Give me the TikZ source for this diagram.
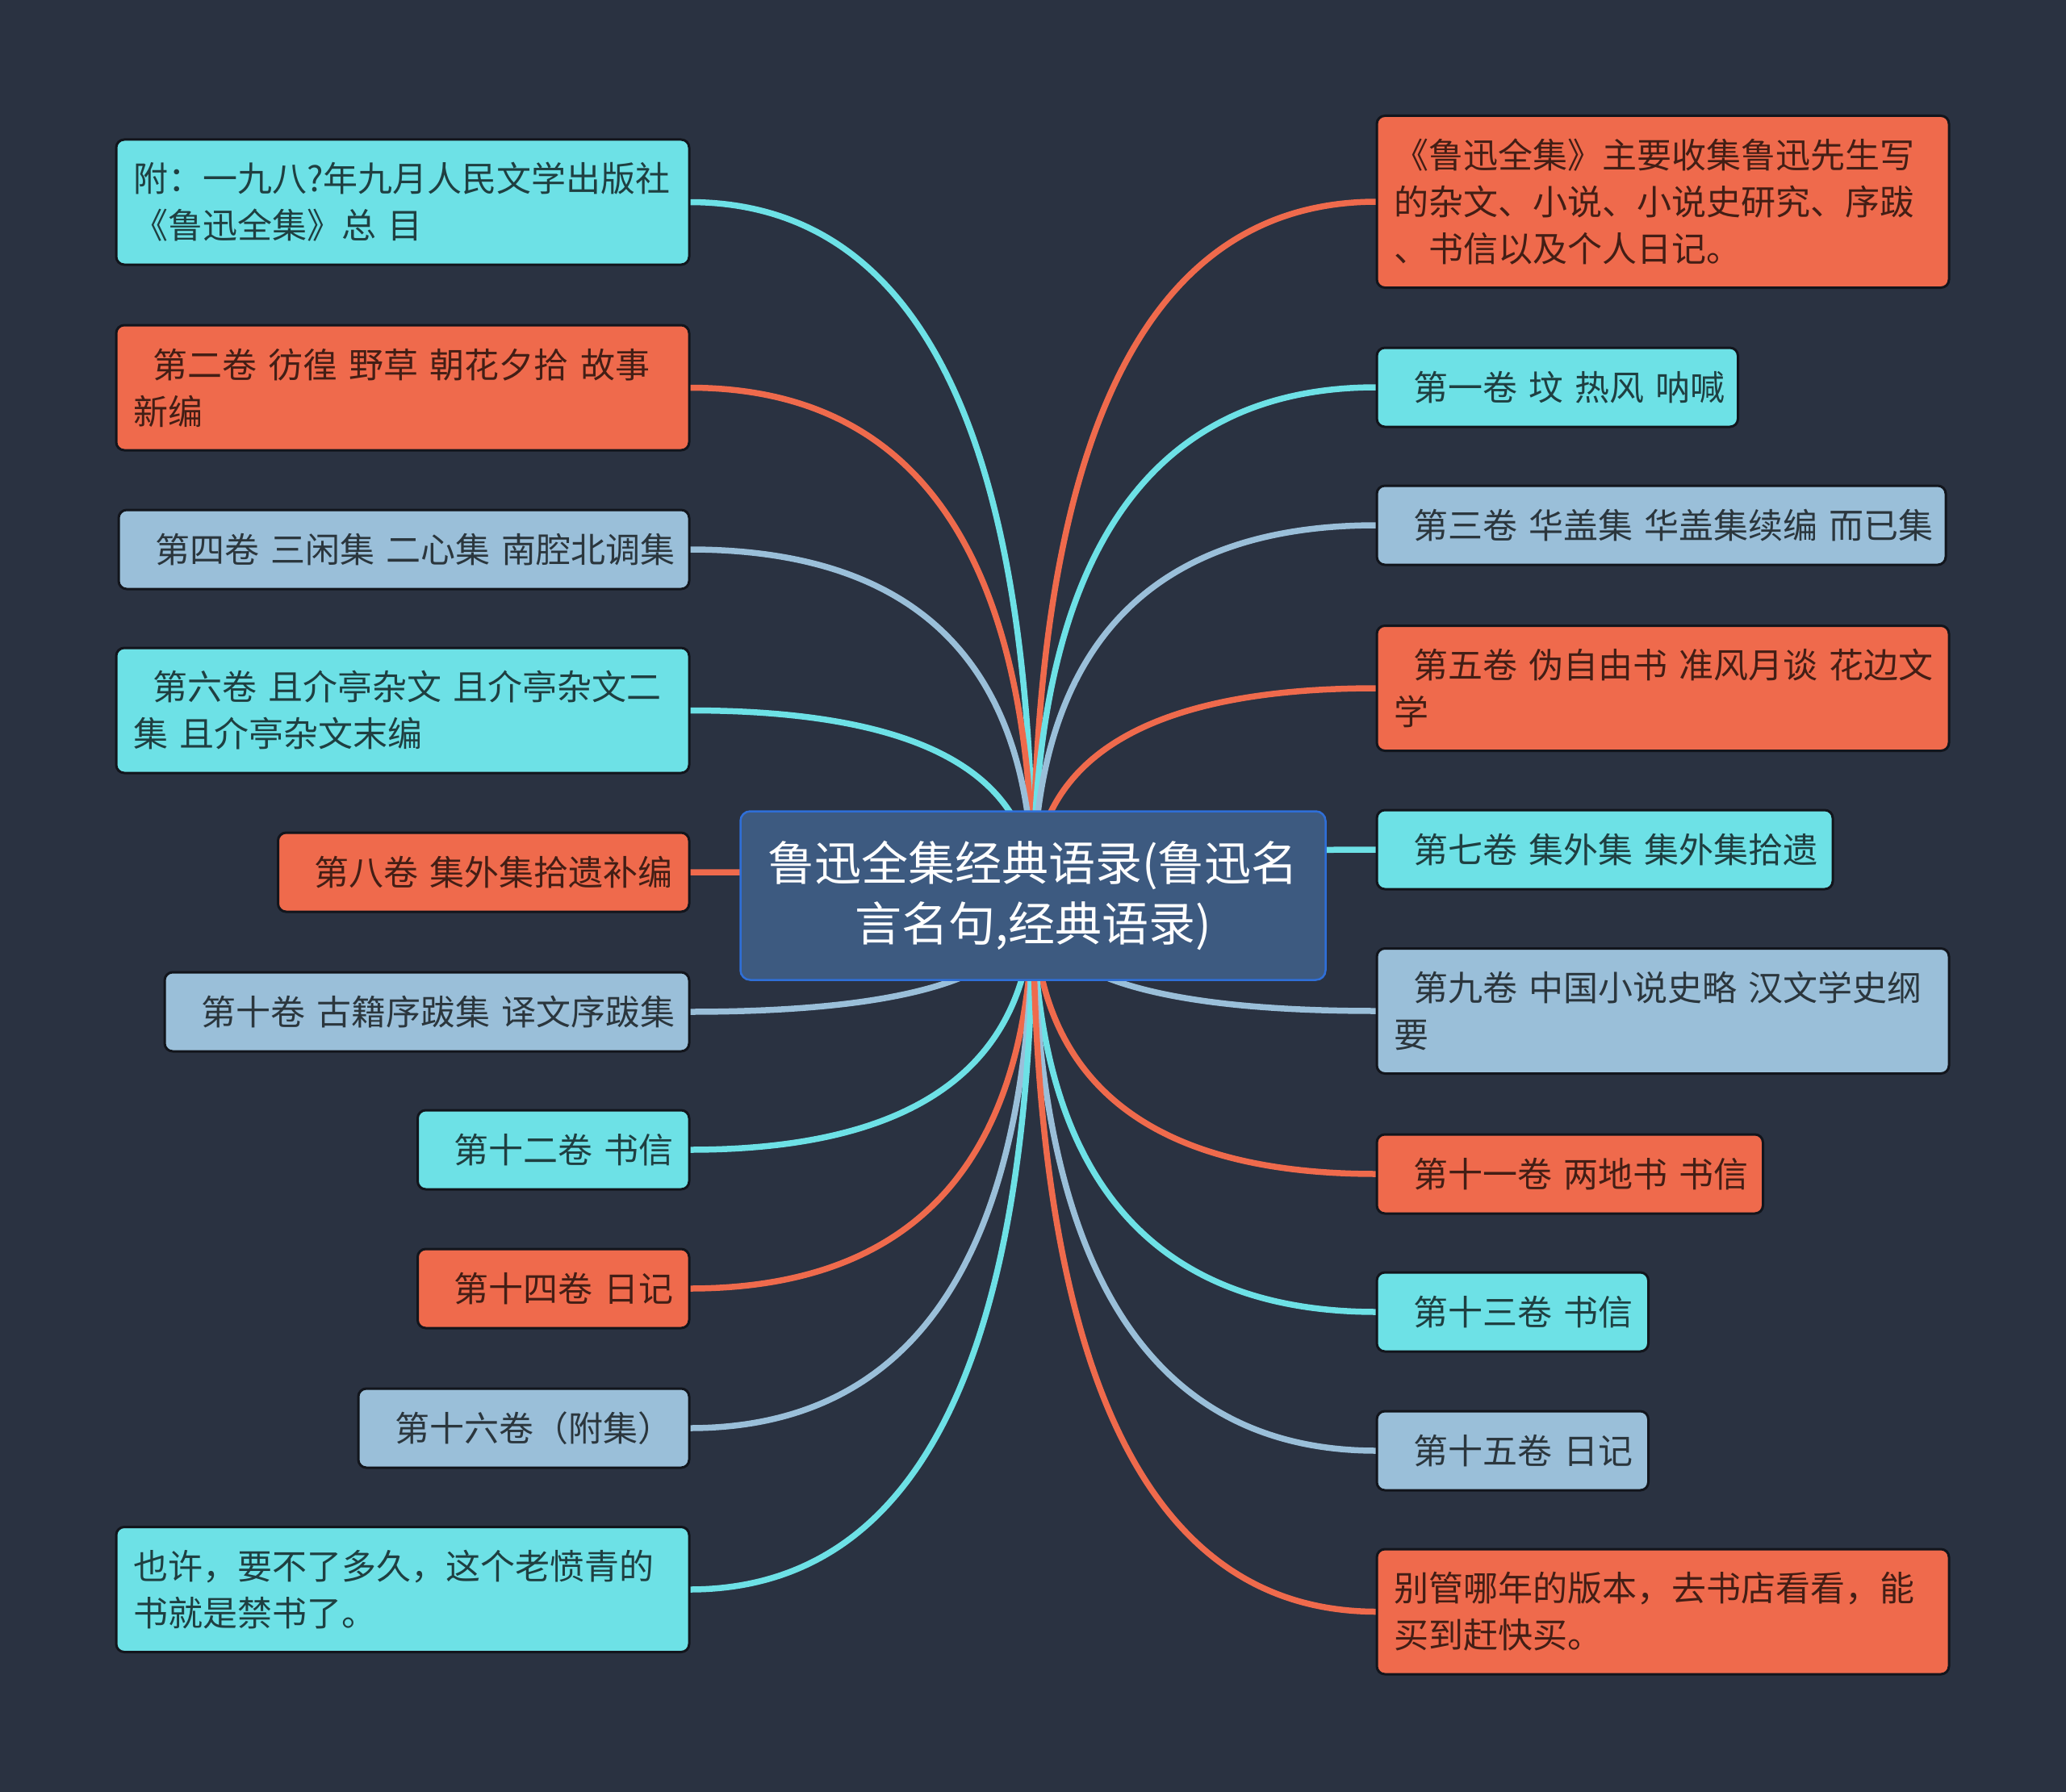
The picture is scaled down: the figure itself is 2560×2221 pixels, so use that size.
\documentclass[tikz,border=0pt]{standalone}
\usepackage{fontspec}
\setmainfont{Noto Sans CJK SC}
\usetikzlibrary{calc,backgrounds}

\definecolor{bgdark}{HTML}{2A3241}
\definecolor{tintcyan}{HTML}{6DE1E6}
\definecolor{tintred}{HTML}{EF6A4C}
\definecolor{tintblue}{HTML}{9ABFD9}
\definecolor{rootfill}{HTML}{3D5A80}
\definecolor{rootedge}{HTML}{2F6FD8}
\definecolor{edgedark}{HTML}{12151C}

\tikzset{
  leafbox/.style={draw=edgedark, line width=3pt, rounded corners=10pt, inner xsep=21pt, inner ysep=0pt, outer sep=0pt, align=left, font=\fontsize{43}{58}\selectfont},
  leafcyan/.style={leafbox, fill=tintcyan, text=black!72!tintcyan},
  leafred/.style={leafbox, fill=tintred, text=black!72!tintred},
  leafblue/.style={leafbox, fill=tintblue, text=black!72!tintblue},
  rootbox/.style={draw=rootedge, line width=2.5pt, fill=rootfill, rounded corners=12pt, text=white, align=center, outer sep=0pt, font=\fontsize{58}{75}\selectfont},
  link/.style={line width=7.5pt}
}
\newcommand{\lead}[1]{\mbox{\hspace*{24pt}#1}}

\begin{document}
\begin{tikzpicture}[x=1pt,y=-1pt]
\useasboundingbox (0,0) rectangle (2560,2221);

\node [rootbox, minimum width=725pt, minimum height=209pt] (root) at (1280,1110) {鲁迅全集经典语录(鲁迅名\\言名句,经典语录)};

% left side
\node [leafcyan, anchor=east, text width=668pt, minimum height=155pt] (lefta) at (854,250.5) {附：一九八?年九月人民文学出版社\\《鲁迅全集》总 目};
\node [leafred, anchor=east, text width=668pt, minimum height=155pt] (leftb) at (854,480.5) {\lead{第二卷 彷徨 野草 朝花夕拾 故事}\\新编};
\node [leafblue, anchor=east, text width=665pt, minimum height=98pt] (leftc) at (854,681) {\lead{第四卷 三闲集 二心集 南腔北调集}};
\node [leafcyan, anchor=east, text width=668pt, minimum height=155pt] (leftd) at (854,880.5) {\lead{第六卷 且介亭杂文 且介亭杂文二}\\集 且介亭杂文末编};
\node [leafred, anchor=east, text width=467.5pt, minimum height=98pt] (lefte) at (854,1081) {\lead{第八卷 集外集拾遗补编}};
\node [leafblue, anchor=east, text width=608pt, minimum height=98pt] (leftf) at (854,1254) {\lead{第十卷 古籍序跋集 译文序跋集}};
\node [leafcyan, anchor=east, text width=294.5pt, minimum height=98pt] (leftg) at (854,1425) {\lead{第十二卷 书信}};
\node [leafred, anchor=east, text width=294.5pt, minimum height=98pt] (lefth) at (854,1597) {\lead{第十四卷 日记}};
\node [leafblue, anchor=east, text width=368pt, minimum height=98pt] (lefti) at (854,1770) {\lead{第十六卷（附集）}};
\node [leafcyan, anchor=east, text width=668pt, minimum height=155pt] (leftj) at (854,1970) {也许，要不了多久，这个老愤青的\\书就是禁书了。};

% right side
\node [leafred, anchor=west, text width=667pt, minimum height=213pt] (righta) at (1706,250) {《鲁迅全集》主要收集鲁迅先生写\\的杂文、小说、小说史研究、序跋\\、书信以及个人日记。};
\node [leafcyan, anchor=west, text width=405.5pt, minimum height=98pt] (rightb) at (1706,480) {\lead{第一卷 坟 热风 呐喊}};
\node [leafblue, anchor=west, text width=663pt, minimum height=98pt] (rightc) at (1706,651) {\lead{第三卷 华盖集 华盖集续编 而已集}};
\node [leafred, anchor=west, text width=667pt, minimum height=155pt] (rightd) at (1706,853) {\lead{第五卷 伪自由书 准风月谈 花边文}\\学};
\node [leafcyan, anchor=west, text width=523pt, minimum height=98pt] (righte) at (1706,1053) {\lead{第七卷 集外集 集外集拾遗}};
\node [leafblue, anchor=west, text width=667pt, minimum height=155pt] (rightf) at (1706,1253) {\lead{第九卷 中国小说史略 汉文学史纲}\\要};
\node [leafred, anchor=west, text width=436.5pt, minimum height=98pt] (rightg) at (1706,1455) {\lead{第十一卷 两地书 书信}};
\node [leafcyan, anchor=west, text width=294.5pt, minimum height=98pt] (righth) at (1706,1626) {\lead{第十三卷 书信}};
\node [leafblue, anchor=west, text width=294.5pt, minimum height=98pt] (righti) at (1706,1798) {\lead{第十五卷 日记}};
\node [leafred, anchor=west, text width=667pt, minimum height=155pt] (rightj) at (1706,1997.5) {别管哪年的版本，去书店看看，能\\买到赶快买。};

\begin{scope}[on background layer]
\fill [bgdark] (0,0) rectangle (2560,2221);
\foreach \leaf/\tint in {lefta/tintcyan,leftb/tintred,leftc/tintblue,leftd/tintcyan,lefte/tintred,leftf/tintblue,leftg/tintcyan,lefth/tintred,lefti/tintblue,leftj/tintcyan}
  \draw [link, \tint] (\leaf.east) .. controls ($(\leaf.east)!2/3!(\leaf.east -| root)$) and ($(root.center)!2/3!(\leaf.east -| root)$) .. (root.center);
\foreach \leaf/\tint in {righta/tintred,rightb/tintcyan,rightc/tintblue,rightd/tintred,righte/tintcyan,rightf/tintblue,rightg/tintred,righth/tintcyan,righti/tintblue,rightj/tintred}
  \draw [link, \tint] (\leaf.west) .. controls ($(\leaf.west)!2/3!(\leaf.west -| root)$) and ($(root.center)!2/3!(\leaf.west -| root)$) .. (root.center);
\end{scope}
\end{tikzpicture}
\end{document}
